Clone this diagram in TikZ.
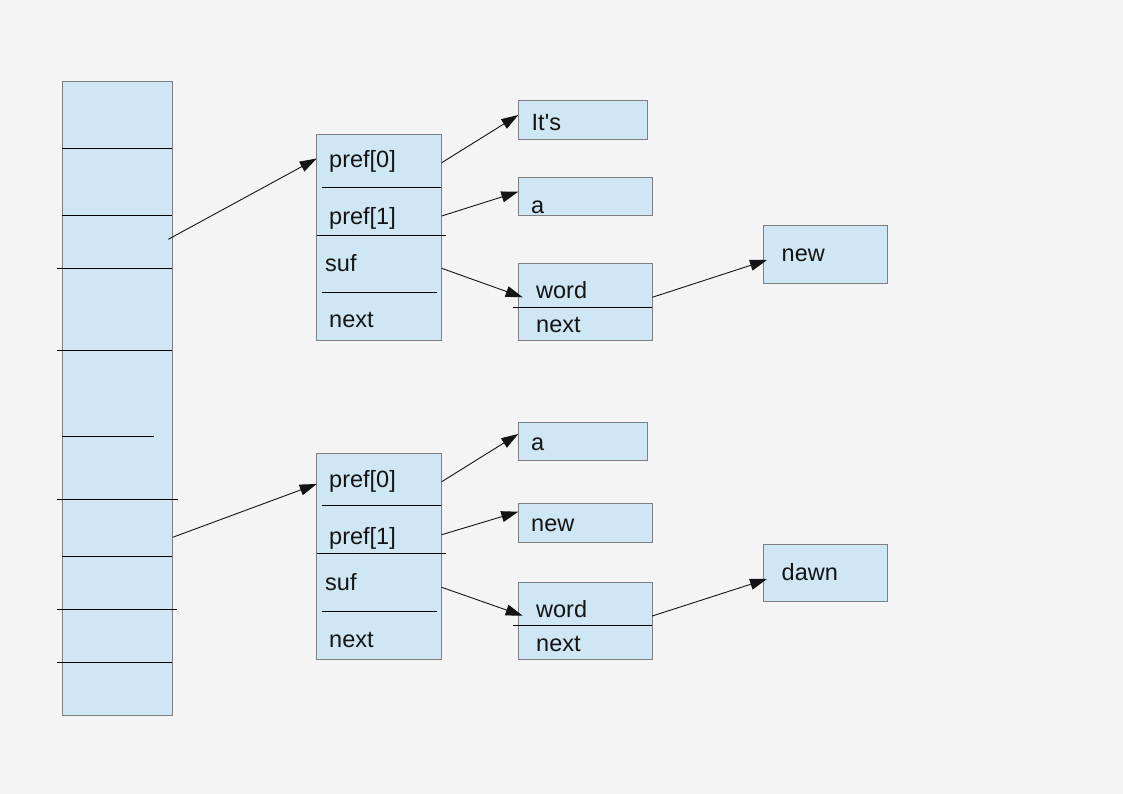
\documentclass[tikz,border=0pt]{standalone}
\usepackage{fontspec}
\setmainfont{Liberation Sans}[Ligatures=TeXOff]
\usetikzlibrary{arrows.meta}
\definecolor{bg}{HTML}{F4F4F4}
\definecolor{cellfill}{HTML}{CFE6F4}
\definecolor{cellborder}{HTML}{7F7F7F}
\definecolor{ink}{HTML}{141414}
\begin{document}
\begin{tikzpicture}[x=1pt,y=-1pt,
  cell/.style={draw=cellborder, fill=cellfill, line width=1pt, rectangle, inner sep=0pt},
  lbl/.style={anchor=base west, inner sep=0pt, font=\fontsize{23.5}{23.5}\selectfont, text=ink},
  sep/.style={draw=black, line width=1pt},
  arr/.style={draw=ink, line width=0.9pt, -{Triangle[length=17pt,width=11pt]}}]
\fill[bg] (0,0) rectangle (1123,794);
\useasboundingbox (0,0) rectangle (1123,794);

% hash table column
\node[cell, minimum width=110pt, minimum height=633.7pt] (tbl) at (117,398.2) {};
\draw[sep] (62,148.3) -- (172,148.3);
\draw[sep] (62,215.3) -- (172,215.3);
\draw[sep] (57,268.3) -- (172,268.3);
\draw[sep] (57,350.3) -- (172,350.3);
\draw[sep] (62,436.3) -- (153.5,436.3);
\draw[sep] (57,499) -- (177.5,499);
\draw[sep] (62,556) -- (172,556);
\draw[sep] (57,609.3) -- (177,609.3);
\draw[sep] (57,662.3) -- (172,662.3);

% ---- first State record ----
\node[cell, minimum width=124.6pt, minimum height=205.7pt] (s1) at (379,237.2) {};
\draw[sep] (321.7,187.3) -- (441,187.3);
\draw[sep] (316.7,235.3) -- (446,235.3);
\draw[sep] (321.7,292) -- (436.7,292);
\node[lbl] (s1p0) at (329,167.3) {pref[0]};
\node[lbl] (s1p1) at (329,224.3) {pref[1]};
\node[lbl] (s1suf) at (325,271) {suf};
\node[lbl] (s1next) at (329,327.7) {next};

\node[cell, minimum width=129pt, minimum height=39pt] (w1) at (582.8,119.8) {};
\node[lbl] (w1t) at (531.5,130.7) {It's};
\node[cell, minimum width=134pt, minimum height=37.6pt] (w2) at (585.3,196.5) {};
\node[lbl] (w2t) at (531,213.3) {a};
\node[cell, minimum width=134pt, minimum height=76.7pt] (sf1) at (585.3,301.7) {};
\draw[sep] (513.3,307.3) -- (652.3,307.3);
\node[lbl] (sf1w) at (536,298.7) {word};
\node[lbl] (sf1n) at (536,332.3) {next};
\node[cell, minimum width=124.4pt, minimum height=57.7pt] (w3) at (825.5,254.2) {};
\node[lbl] (w3t) at (781.5,261.7) {new};

% ---- second State record ----
\node[cell, minimum width=124.6pt, minimum height=206pt] (s2) at (379,556.3) {};
\draw[sep] (321.7,505.3) -- (441,505.3);
\draw[sep] (316.7,553.3) -- (446,553.3);
\draw[sep] (321.7,611.3) -- (436.7,611.3);
\node[lbl] (s2p0) at (329,487.3) {pref[0]};
\node[lbl] (s2p1) at (329,544.3) {pref[1]};
\node[lbl] (s2suf) at (325,590) {suf};
\node[lbl] (s2next) at (329,647.3) {next};

\node[cell, minimum width=129pt, minimum height=38pt] (w4) at (582.8,441.3) {};
\node[lbl] (w4t) at (531,450) {a};
\node[cell, minimum width=134pt, minimum height=39pt] (w5) at (585.3,522.8) {};
\node[lbl] (w5t) at (531,531.7) {new};
\node[cell, minimum width=134pt, minimum height=77pt] (sf2) at (585.3,620.8) {};
\draw[sep] (513.3,625.3) -- (652.3,625.3);
\node[lbl] (sf2w) at (536,617.3) {word};
\node[lbl] (sf2n) at (536,651.7) {next};
\node[cell, minimum width=124pt, minimum height=57pt] (w6) at (825,572.5) {};
\node[lbl] (w6t) at (781.5,580.7) {dawn};

% pointer ends
\coordinate (a1) at (168.3,239.3);
\coordinate (a1t) at (316.7,158.5);
\coordinate (a2) at (172.7,537.3);
\coordinate (a2t) at (316.7,484);
\coordinate (b1) at (441.7,162.7);
\coordinate (b1t) at (518.3,115);
\coordinate (b2) at (441.7,216);
\coordinate (b2t) at (518.3,191.7);
\coordinate (b3) at (441.7,268.3);
\coordinate (b3t) at (522.7,297.3);
\coordinate (b4) at (652.3,297.3);
\coordinate (b4t) at (767,260);
\coordinate (c1) at (441.7,481.7);
\coordinate (c1t) at (518.3,434);
\coordinate (c2) at (441.7,534.7);
\coordinate (c2t) at (518.3,511.7);
\coordinate (c3) at (441.7,587.3);
\coordinate (c3t) at (522.7,615.7);
\coordinate (c4) at (652.3,616);
\coordinate (c4t) at (767,579);

\draw[arr] (a1) -- (a1t);
\draw[arr] (a2) -- (a2t);
\draw[arr] (b1) -- (b1t);
\draw[arr] (b2) -- (b2t);
\draw[arr] (b3) -- (b3t);
\draw[arr] (b4) -- (b4t);
\draw[arr] (c1) -- (c1t);
\draw[arr] (c2) -- (c2t);
\draw[arr] (c3) -- (c3t);
\draw[arr] (c4) -- (c4t);
\end{tikzpicture}
\end{document}
